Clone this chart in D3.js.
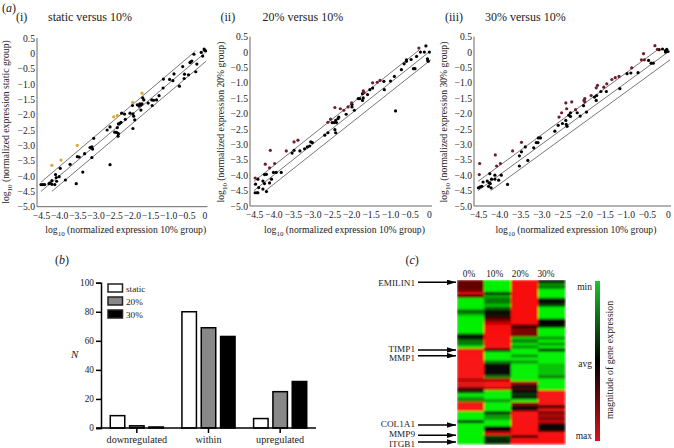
<!DOCTYPE html>
<html>
<head>
<meta charset="utf-8">
<script src="https://cdn.jsdelivr.net/npm/d3@7"></script>
<style>
  html, body { margin: 0; padding: 0; background: #fff; }
  svg { display: block; }
  text { font-family: "Liberation Serif", serif; fill: #222; }
</style>
</head>
<body>
<div id="chart"></div>
<script>
// (a) scatter panels, values are [log10 10% group, log10 other group]
const staticBlack = [[-0.01,0.14],[0,0.1],[0.03,0.08],[-0.09,0.03],[-0.05,-0.09],[-0.29,-0.03],[-0.21,-0.35],[-0.24,-0.6],[-0.35,-0.25],[-0.38,-0.28],[-0.4,-0.3],[-0.6,-0.43],[-0.55,-0.68],[-0.56,-0.82],[-0.44,-0.7],[-0.84,-0.67],[-0.96,-0.85],[-0.87,-0.89],[-0.69,-1.07],[-1.13,-0.84],[-1.14,-1.13],[-1.25,-1.38],[-1.32,-1.52],[-1.45,-1.52],[-1.4,-1.53],[-1.44,-1.7],[-1.55,-1.62],[-1.7,-1.45],[-1.67,-1.52],[-1.72,-1.65],[-1.75,-1.68],[-1.78,-1.65],[-1.8,-1.72],[-1.85,-1.68],[-1.75,-1.85],[-1.98,-1.7],[-1.97,-1.97],[-2.05,-1.95],[-1.95,-2.05],[-1.92,-2.17],[-1.97,-2.45],[-2.18,-2.15],[-2.2,-1.98],[-2.28,-1.95],[-2.3,-2.25],[-2.33,-2.28],[-2.37,-2.3],[-2.4,-2.42],[-2.42,-2.58],[-2.47,-2.57],[-2.37,-2.62],[-2.38,-2.7],[-2.6,-2.4],[-2.68,-2.5],[-2.6,-3.63],[-3.05,-2.77],[-3.1,-3.05],[-3.15,-3.07],[-3.08,-3.12],[-3.1,-3.4],[-3.3,-3.27],[-3.45,-3.38],[-3.5,-3.37],[-3.35,-3.87],[-3.53,-4.25],[-3.7,-3.62],[-3.97,-3.75],[-3.83,-4.13],[-4.0,-4.02],[-4.1,-3.95],[-4.08,-4.05],[-4.07,-4.17],[-4.12,-4.28],[-4.2,-4.15],[-4.2,-4.27],[-4.25,-4.22],[-4.28,-4.25],[-4.45,-4.28],[-4.4,-4.28],[-4.5,-4.28]];
const staticOutside = [[-4.2,-3.65],[-3.95,-3.48],[-3.5,-3],[-2.5,-2.07],[-2.4,-2.03],[-1.98,-1.6],[-1.72,-1.3]];

const flow20Black = [[-0.08,0.2],[-0.22,0],[-0.12,0],[0.01,0],[-0.04,-0.22],[-0.03,-0.27],[-0.02,-0.3],[-0.32,-0.14],[-0.46,-0.24],[-0.58,-0.25],[-0.58,-0.3],[-0.64,-0.38],[-0.71,-0.57],[-0.4,-0.54],[-0.36,-0.54],[-0.89,-0.79],[-0.99,-0.94],[-0.86,-1.91],[-1.16,-0.95],[-1.15,-1.22],[-1.45,-1.17],[-1.52,-1.22],[-1.58,-1.38],[-1.71,-1.35],[-1.69,-1.49],[-1.71,-1.57],[-1.78,-1.51],[-1.82,-1.51],[-1.92,-1.89],[-1.98,-1.7],[-1.98,-1.78],[-2.13,-2.02],[-2.32,-2.11],[-2.34,-2.16],[-2.4,-2.22],[-2.38,-2.29],[-2.44,-2.29],[-2.49,-2.29],[-2.42,-2.52],[-2.4,-2.62],[-2.6,-2.62],[-2.68,-2.7],[-3.0,-2.94],[-3.04,-2.92],[-3.07,-3.05],[-3.13,-3.08],[-3.2,-3.14],[-3.32,-3.21],[-3.47,-3.19],[-3.52,-3.28],[-3.8,-3.91],[-3.93,-3.91],[-4,-3.91],[-4.18,-3.97],[-4.23,-3.98],[-4.05,-4.13],[-4.1,-4.25],[-4.23,-4.27],[-4.27,-4.19],[-4.27,-4.45],[-4.18,-4.53],[-4.4,-4.13],[-4.46,-4.29],[-4.38,-4.4],[-4.47,-4.57],[-4.42,-4.57],[-4.4,-4.57]];
const flow20Outside = [[-0.26,0.13],[-1.26,-0.92],[-1.33,-0.98],[-1.45,-1],[-1.69,-1.26],[-1.67,-1.32],[-1.99,-1.65],[-2.08,-1.78],[-2.19,-1.89],[-2.28,-1.84],[-2.42,-1.8],[-2.53,-2.18],[-2.6,-2.28],[-3.37,-2.86],[-3.47,-2.92],[-3.67,-3.21],[-3.97,-3.62],[-4.1,-3.76],[-4.08,-3.19],[-4.21,-3.64],[-4.47,-4.09]];

const flow30Black = [[0,0.02],[-0.03,0.09],[-0.06,0.05],[-0.13,0.1],[-0.21,0.08],[-0.06,0],[-0.46,-0.27],[-0.4,-0.36],[-0.35,-0.36],[-0.71,-0.67],[-0.88,-0.68],[-0.97,-0.7],[-1.14,-1.19],[-1.46,-1.28],[-1.59,-1.28],[-1.69,-1.41],[-1.74,-1.46],[-1.7,-1.57],[-2.0,-1.74],[-1.93,-1.95],[-2.08,-2.08],[-2.15,-1.97],[-2.31,-1.97],[-2.35,-2.05],[-2.31,-2.09],[-2.42,-2.22],[-2.5,-2.32],[-2.41,-2.35],[-2.39,-2.41],[-2.6,-2.38],[-2.68,-2.57],[-3.02,-2.79],[-3.07,-2.79],[-3.08,-2.94],[-3.12,-2.94],[-3.18,-3.11],[-3.38,-3.08],[-3.47,-3.24],[-3.52,-3.37],[-3.32,-3.52],[-3.52,-3.7],[-3.95,-4],[-4.1,-4],[-4.22,-3.95],[-4.01,-4.16],[-4.1,-4.13],[-4.18,-4.13],[-3.8,-4.3],[-4.28,-4.19],[-4.23,-4.25],[-4.21,-4.27],[-4.25,-4.36],[-4.19,-4.41],[-4.38,-4.22],[-4.41,-4.36],[-4.45,-4.38],[-4.49,-4.41]];
const flow30Outside = [[-0.31,0.21],[-0.25,0.09],[-0.58,-0.05],[-0.63,-0.25],[-0.56,-0.25],[-0.86,-0.51],[-1.16,-0.79],[-1.25,-0.83],[-1.33,-0.89],[-1.45,-1.03],[-1.52,-1.14],[-1.67,-1.08],[-1.7,-1.16],[-1.82,-1.41],[-1.97,-1.51],[-1.99,-1.57],[-1.97,-1.62],[-2.19,-1.87],[-2.28,-1.62],[-2.42,-1.65],[-2.4,-1.84],[-2.52,-1.97],[-2.58,-2.11],[-3.47,-2.93],[-3.68,-3.21],[-3.97,-3.62],[-4.06,-3.7],[-4.09,-3.34],[-4.46,-3.62],[-4.47,-3.98]];

const scatterXTicks = [-4.5,-4,-3.5,-3,-2.5,-2,-1.5,-1,-0.5,0];
const scatterYTicks = [0.5,0,-0.5,-1,-1.5,-2,-2.5,-3,-3.5,-4,-4.5,-5];
// fold-change guide lines: [x1, y1, x2, y2]
const upperLine  = [-4.5,-4.2,-0.25,0.07];
const centreLine = [-4.5,-4.5,0,0];
const lowerLine  = [-4.2,-4.5,0.05,-0.25];

// (b) bars
const regulation = ['downregulated','within','upregulated'];
const groups = ['static','20%','30%'];
const staticCounts = [8.5,80,6.5];
const flow20Counts = [1.5,69,25];
const flow30Counts = [0.7,63,32];
const countTicks = [0,20,40,60,80,100];

// (c) heatmap, -1 = green (min), 0 = black (avg), 1 = red (max)
const heatColumns = ['0%','10%','20%','30%'];
const heat0  = [.45,.4,.4,.5,.85,.3,-1,-1,-1,-.95,-.3,-.7,-1,-1,-1,-1,-1,-1,-.1,-.1,-.5,-.5,-1,1,1,1,1,1,1,1,1,1,1,.7,.9,.9,.3,-.1,-1,-.7,-.5,1,1,1,-1,-1,-1,-.1,-1,-1,-1,-1,-1,-1,-1];
const heat10 = [-1,-1,-1,-1,-.1,-.7,-.5,-.5,-.8,-.4,.1,-.1,.2,.5,.8,1,1,1,1,1,1,1,1,0,-1,-1,-1,-.5,0,0,0,0,-.5,.7,1,1,.8,-1,-1,-1,-.6,-1,-1,-1,-.1,-.6,-.7,-1,-1,0,.1,.9,-.3,-.1,-.2];
const heat20 = [1,1,1,1,1,1,1,1,1,1,1,1,1,1,1,0,.5,.5,.5,-.8,-.5,-.9,-.6,-1,-1,-.6,-1,-.6,-1,-1,-1,-1,-1,-1,.7,.1,.2,0,-.2,0,-1,.6,.1,0,1,1,1,1,1,1,1,1,.3,1,1];
const heat30 = [0,-.6,-.5,-1,-1,-1,-.1,0,-.3,-1,-1,-1,-1,0,0,-.1,-1,-1,-1,-.6,-1,-.6,-1,0,-1,-1,-1,-1,-.8,-.8,-.8,-.8,-.5,-1,-1,-1,-1,1,1,1,1,1,0,.9,.5,.7,.5,.8,.1,0,.1,1,1,1,1];
const geneLabels = ['EMILIN1','TIMP1','MMP1','COL1A1','MMP9','ITGB1'];

const GREY = '#666';
const DARK_RED = '#6e1c28';
const YELLOW = '#dba838';
const TICK_SIZE = 9.6;

const svg = d3.select('#chart').append('svg').attr('width', 674).attr('height', 448);

const defs = svg.append('defs');
defs.append('marker').attr('id', 'arrow')
    .attr('viewBox', '0 0 10 6').attr('refX', 10).attr('refY', 3)
    .attr('markerUnits', 'userSpaceOnUse').attr('markerWidth', 9).attr('markerHeight', 5.5)
    .attr('orient', 'auto')
    .append('path').attr('d', 'M0,0L10,3L0,6Z').attr('fill', '#000');
defs.append('filter').attr('id', 'soft')
    .attr('x', 0).attr('y', 0).attr('width', 1).attr('height', 1)
    .append('feGaussianBlur').attr('stdDeviation', '0.9 0.8');

function label(x, y, str, size, anchor) {
    return svg.append('text').attr('x', x).attr('y', y)
        .attr('font-size', size).attr('text-anchor', anchor || 'start').text(str);
}

function logLabel(g, str) {
    const t = g.append('text').attr('font-size', 9.7).attr('text-anchor', 'middle');
    t.append('tspan').text('log');
    t.append('tspan').attr('font-size', 7).attr('dy', 3).text('10');
    t.append('tspan').attr('dy', -3).text(' (normalized expression ' + str + ' group)');
}

const tickFmt = d => d === 0 ? '0' : d3.format('.1f')(d).replace('-', '\u2212');

function scatter(p) {
    const x = d3.scaleLinear().domain([-4.5, 0]).range(p.xRange);
    const y = d3.scaleLinear().domain([0.5, -5]).range(p.yRange);
    const g = svg.append('g');

    g.append('g').attr('transform', `translate(${p.axisX},0)`)
        .call(d3.axisLeft(y).tickValues(scatterYTicks).tickSize(0).tickPadding(2).tickFormat(tickFmt))
        .call(a => a.select('.domain').remove());
    g.append('g').attr('transform', `translate(0,${p.yRange[1]})`)
        .call(d3.axisBottom(x).tickValues(scatterXTicks).tickSize(0).tickPadding(5).tickFormat(tickFmt))
        .call(a => a.select('.domain').remove());
    g.selectAll('.tick text').attr('font-size', TICK_SIZE);

    // axis lines
    g.append('path').attr('fill', 'none').attr('stroke', GREY).attr('stroke-width', 1)
        .attr('d', `M${p.axisX},${y(0.5)}V${p.yRange[1]}H${x(0) + 3}`);

    g.selectAll('.guide').data([upperLine, centreLine, lowerLine]).join('line')
        .attr('class', 'guide')
        .attr('x1', d => x(d[0])).attr('y1', d => y(d[1]))
        .attr('x2', d => x(d[2])).attr('y2', d => y(d[3]))
        .attr('stroke', '#555').attr('stroke-width', 0.8);

    g.selectAll('.inside').data(p.inside).join('circle').attr('class', 'inside')
        .attr('cx', d => x(d[0])).attr('cy', d => y(d[1])).attr('r', 1.6).attr('fill', '#000');
    g.selectAll('.outside').data(p.outside).join('circle').attr('class', 'outside')
        .attr('cx', d => x(d[0])).attr('cy', d => y(d[1])).attr('r', 1.6).attr('fill', p.outsideColor);

    logLabel(g.append('g').attr('transform', `translate(${p.yLabelX},${p.yLabelY}) rotate(-90)`), p.name);
    logLabel(g.append('g').attr('transform', `translate(${(x(-4.5) + x(0)) / 2 + 3},233)`), '10%');

    label(p.numX, 21, p.num, 12);
    label(p.titleX, 21, p.title, 12);
}

svg.append('text').attr('x', 2).attr('y', 12).attr('font-size', 12)
    .html('(<tspan font-style="italic">a</tspan>)');

scatter({ xRange: [41, 204.5], yRange: [38, 206.7], axisX: 37, inside: staticBlack, outside: staticOutside,
    outsideColor: YELLOW, name: 'static', yLabelX: 9, yLabelY: 122, num: '(i)', numX: 16, title: 'static versus 10%', titleX: 48 });
scatter({ xRange: [254, 429], yRange: [36.7, 206], axisX: 250, inside: flow20Black, outside: flow20Outside,
    outsideColor: DARK_RED, name: '20%', yLabelX: 224, yLabelY: 122, num: '(ii)', numX: 220.5, title: '20% versus 10%', titleX: 262.5 });
scatter({ xRange: [478, 668], yRange: [36.7, 206], axisX: 474, inside: flow30Black, outside: flow30Outside,
    outsideColor: DARK_RED, name: '30%', yLabelX: 447, yLabelY: 122, num: '(iii)', numX: 445, title: '30% versus 10%', titleX: 485 });

// (b) grouped bars
svg.append('text').attr('x', 55).attr('y', 264).attr('font-size', 12)
    .html('(<tspan font-style="italic">b</tspan>)');

const x0 = d3.scaleBand().domain(regulation).range([101, 316]);
const x1 = d3.scaleBand().domain(groups).range([0, x0.bandwidth()]).paddingInner(0.25).paddingOuter(0.48);
const yN = d3.scaleLinear().domain([0, 100]).range([428, 282.7]);
const barFill = d3.scaleOrdinal().domain(groups).range(['#fff', '#888', '#000']);
const barCounts = { static: staticCounts, '20%': flow20Counts, '30%': flow30Counts };

const barG = svg.append('g');
groups.forEach(s => {
    barG.selectAll('.bar-' + groups.indexOf(s)).data(regulation).join('rect')
        .attr('x', d => x0(d) + x1(s))
        .attr('y', (d, i) => yN(barCounts[s][i]))
        .attr('width', x1.bandwidth())
        .attr('height', (d, i) => yN(0) - yN(barCounts[s][i]))
        .attr('fill', barFill(s)).attr('stroke', '#000').attr('stroke-width', 1.5);
});

const yAxisN = barG.append('g').attr('transform', 'translate(101,0)')
    .call(d3.axisLeft(yN).tickValues(countTicks).tickSize(5).tickPadding(2));
const xAxisN = barG.append('g').attr('transform', 'translate(0,428)')
    .call(d3.axisBottom(x0).tickSize(5).tickPadding(3).tickSizeOuter(0));
[yAxisN, xAxisN].forEach(a => {
    a.selectAll('.domain,.tick line').attr('stroke', '#000').attr('stroke-width', 1.5);
});
yAxisN.selectAll('text').attr('font-size', 9.3);
xAxisN.selectAll('text').attr('font-size', 10.2);
xAxisN.select('.domain').attr('d', 'M96,0H316');

const legend = barG.selectAll('.legend').data(groups).join('g').attr('class', 'legend')
    .attr('transform', (d, i) => `translate(108,${284 + i * 13})`);
legend.append('rect').attr('width', 14.5).attr('height', 8).attr('fill', d => barFill(d))
    .attr('stroke', '#222').attr('stroke-width', 1.5);
legend.append('text').attr('x', 18).attr('y', 8).attr('font-size', 9.2).text(d => d);

svg.append('text').attr('x', 71).attr('y', 358).attr('font-size', 11).attr('font-style', 'italic').text('N');

// (c) heatmap
svg.append('text').attr('x', 405.5).attr('y', 264).attr('font-size', 12)
    .html('(<tspan font-style="italic">c</tspan>)');

const heatData = [heat0, heat10, heat20, heat30];
const colX = d3.scaleBand().domain(heatColumns).range([457, 565]);
const rowY = d3.scaleBand().domain(d3.range(heat0.length)).range([280, 444]);
const heatColor = d3.scaleLinear().domain([-1, 0, 1]).range(['#06f106', '#000', '#f80808']);

const cells = svg.append('g').attr('filter', 'url(#soft)');
heatColumns.forEach((c, ci) => {
    cells.selectAll('.col' + ci).data(heatData[ci]).join('rect')
        .attr('x', colX(c)).attr('y', (d, i) => rowY(i))
        .attr('width', colX.bandwidth() + 0.3).attr('height', rowY.bandwidth() + 0.3)
        .attr('fill', d => heatColor(d));
});

const colLabel = d3.scalePoint().domain(heatColumns).range([469, 546]);
svg.selectAll('.col-label').data(heatColumns).join('text').attr('class', 'col-label')
    .attr('x', d => colLabel(d)).attr('y', 277).attr('font-size', 9.3).attr('text-anchor', 'middle').text(d => d);

const geneY = [282.3, 350, 355.7, 425, 435.3, 442];
const labelY = [285.5, 352, 360.5, 426.5, 436.5, 447];
geneLabels.forEach((g, i) => {
    svg.append('text').attr('x', 415).attr('y', labelY[i]).attr('font-size', 9.2)
        .attr('text-anchor', 'end').text(g);
    svg.append('line').attr('x1', 418).attr('x2', 456)
        .attr('y1', geneY[i]).attr('y2', geneY[i])
        .attr('stroke', '#000').attr('stroke-width', 1.4).attr('marker-end', 'url(#arrow)');
});

// colour key
const grad = defs.append('linearGradient').attr('id', 'key').attr('x1', 0).attr('y1', 0).attr('x2', 0).attr('y2', 1);
[[0, '#1fc42f'], [0.5, '#000'], [1, '#d8141c']].forEach(s =>
    grad.append('stop').attr('offset', s[0]).attr('stop-color', s[1]));
svg.append('rect').attr('x', 595).attr('y', 281).attr('width', 5).attr('height', 160).attr('fill', 'url(#key)');
label(592, 290, 'min', 9.5, 'end');
label(592, 367, 'avg', 9.5, 'end');
label(592, 439, 'max', 9.5, 'end');
svg.append('text').attr('transform', 'translate(613,360) rotate(-90)')
    .attr('font-size', 9.9).attr('text-anchor', 'middle').text('magnitude of gene expression');
</script>
</body>
</html>
